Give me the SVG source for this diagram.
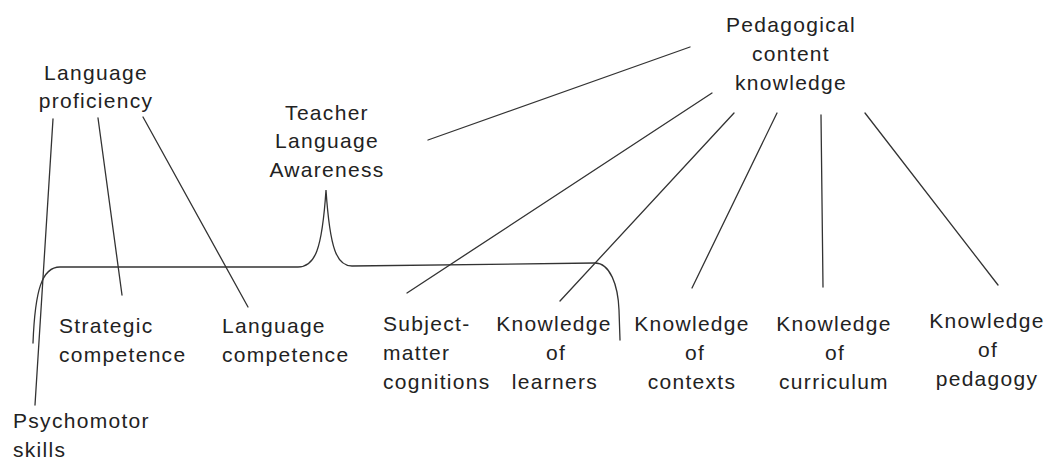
<svg xmlns="http://www.w3.org/2000/svg" width="1049" height="460" viewBox="0 0 1049 460">
<style>
text{font-family:"Liberation Sans",Arial,sans-serif;font-size:21px;letter-spacing:1.3px;fill:#222}
.m{text-anchor:middle}
.c{fill:none;stroke:#333;stroke-width:1.3;stroke-linecap:round}
</style>
<rect width="1049" height="460" fill="#fff"/>
<g id="connectors">
<path class="c" d="M53,119 L35,405"/>
<path class="c" d="M98,118 L122,295"/>
<path class="c" d="M143,117 L248,307"/>
<path class="c" d="M33,343 C35,290 42,267 60,267 L298,267 C315,267 322,250 326,190 C330,250 337,266 352,266 L595,263 C610,263 618,285 619,310 L620,340"/>
<path class="c" d="M428,140 L690,47"/>
<path class="c" d="M712,93 L407,293"/>
<path class="c" d="M734,113 L560,301"/>
<path class="c" d="M777,113 L692,288"/>
<path class="c" d="M821,115 L823,287"/>
<path class="c" d="M865,113 L998,285"/>
</g>
<g id="language-proficiency"><text class="m" x="96" y="80">Language</text><text class="m" x="96" y="108">proficiency</text></g>
<g id="teacher-language-awareness"><text class="m" x="327" y="120">Teacher</text><text class="m" x="327" y="148">Language</text><text class="m" x="327" y="177">Awareness</text></g>
<g id="pedagogical-content-knowledge"><text class="m" x="791" y="32">Pedagogical</text><text class="m" x="791" y="61">content</text><text class="m" x="791" y="90">knowledge</text></g>
<g id="strategic-competence"><text x="59" y="333">Strategic</text><text x="59" y="362">competence</text></g>
<g id="language-competence"><text x="222" y="333">Language</text><text x="222" y="362">competence</text></g>
<g id="subject-matter-cognitions"><text x="383" y="331">Subject-</text><text x="383" y="360">matter</text><text x="383" y="389">cognitions</text></g>
<g id="knowledge-of-learners"><text class="m" x="554" y="331">Knowledge</text><text class="m" x="556" y="360">of</text><text class="m" x="555" y="389">learners</text></g>
<g id="knowledge-of-contexts"><text class="m" x="692" y="331">Knowledge</text><text class="m" x="695" y="360">of</text><text class="m" x="692" y="389">contexts</text></g>
<g id="knowledge-of-curriculum"><text class="m" x="834" y="331">Knowledge</text><text class="m" x="835" y="360">of</text><text class="m" x="834" y="389">curriculum</text></g>
<g id="knowledge-of-pedagogy"><text class="m" x="987" y="328">Knowledge</text><text class="m" x="988" y="357">of</text><text class="m" x="987" y="386">pedagogy</text></g>
<g id="psychomotor-skills"><text x="13" y="428">Psychomotor</text><text x="13" y="457">skills</text></g>
</svg>
